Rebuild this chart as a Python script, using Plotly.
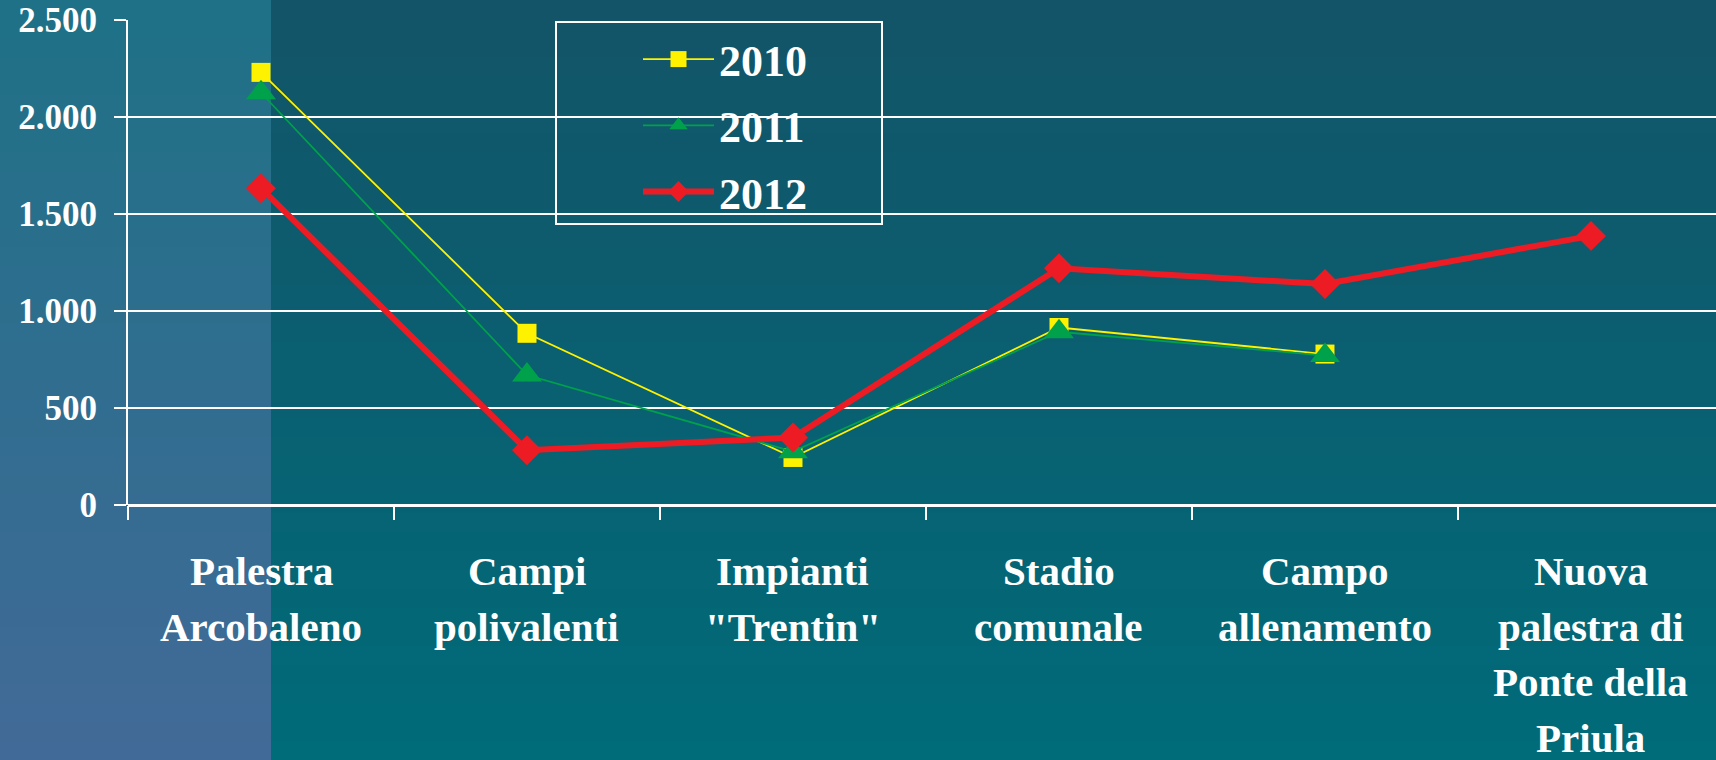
import plotly.graph_objects as go

categories = ["Palestra Arcobaleno", "Campi polivalenti", "Impianti \"Trentin\"",
              "Stadio comunale", "Campo allenamento",
              "Nuova palestra di Ponte della Priula"]
label_lines = [["Palestra", "Arcobaleno"], ["Campi", "polivalenti"], ["Impianti", "\"Trentin\""],
               ["Stadio", "comunale"], ["Campo", "allenamento"],
               ["Nuova", "palestra di", "Ponte della", "Priula"]]
v2010 = [2230, 885, 245, 915, 778, None]
v2011 = [2125, 670, 275, 893, 770, None]
v2012 = [1633, 282, 348, 1220, 1139, 1387]
ytickvals = [0, 500, 1000, 1500, 2000, 2500]
yticktext = ["0", "500", "1.000", "1.500", "2.000", "2.500"]

W, H = 1716, 760
ML, MT, MB, MR = 128, 20, 255, 0
PW, PH = W - ML - MR, H - MT - MB


def px(x):
    return (x - ML) / PW


def py(y):
    return (H - MB - y) / PH


def mix(c1, c2, t):
    return "rgb(%d,%d,%d)" % tuple(round(a + (b - a) * t) for a, b in zip(c1, c2))


shapes = []
n = 40
for i in range(n):
    t = (i + 0.5) / n
    y0, y1 = H * i / n, H * (i + 1) / n + 1
    shapes.append(dict(type="rect", xref="paper", yref="paper", layer="below",
                       x0=px(0), x1=px(271), y0=py(y1), y1=py(y0), line_width=0,
                       fillcolor=mix((30, 113, 134), (66, 106, 152), t)))
    shapes.append(dict(type="rect", xref="paper", yref="paper", layer="below",
                       x0=px(271), x1=px(W), y0=py(y1), y1=py(y0), line_width=0,
                       fillcolor=mix((19, 84, 104), (0, 107, 121), t)))
# legend frame
shapes.append(dict(type="rect", xref="paper", yref="paper", layer="above",
                   x0=px(556), x1=px(882), y0=py(224), y1=py(22),
                   line=dict(color="white", width=2), fillcolor="rgba(0,0,0,0)"))

font = dict(family="'Liberation Serif', 'Times New Roman', serif", color="white", weight="bold")

# category labels, one annotation per line (wider line spacing than tick labels)
annotations = []
for cat, lines in zip(categories, label_lines):
    for i, txt in enumerate(lines):
        annotations.append(dict(x=cat, xref="x", y=0, yref="paper", text=txt,
                                showarrow=False, yanchor="middle",
                                yshift=-(66 + 55.5 * i), font=dict(size=41, **font)))

fig = go.Figure()
fig.add_trace(go.Scatter(x=categories, y=v2010, name="2010", mode="lines+markers",
                         line=dict(color="#FFF200", width=1.8), legendgroup="a",
                         marker=dict(symbol="square", size=19, color="#FFF200")))
fig.add_trace(go.Scatter(x=categories, y=v2011, name="2011", mode="lines+markers",
                         line=dict(color="#00A14B", width=1.8), legendgroup="b",
                         marker=dict(symbol="triangle-up", size=26, color="#00A14B")))
fig.add_trace(go.Scatter(x=categories, y=v2012, name="2012", mode="lines+markers",
                         line=dict(color="#ED1C24", width=6), legendgroup="c",
                         marker=dict(symbol="diamond", size=23, color="#ED1C24")))

fig.update_layout(
    width=W, height=H, margin=dict(l=ML, r=MR, t=MT, b=MB),
    paper_bgcolor="rgb(10,95,112)", plot_bgcolor="rgba(0,0,0,0)",
    shapes=shapes, annotations=annotations, hovermode=False,
    legend=dict(x=px(638), y=py(24), xanchor="left", yanchor="top",
                bgcolor="rgba(0,0,0,0)", borderwidth=0, tracegroupgap=6,
                itemwidth=71, font=dict(size=44, **font)),
    xaxis=dict(type="category", range=[-0.5, 5.47], tickson="boundaries",
               ticks="outside", ticklen=14, tickwidth=2, tickcolor="white",
               showgrid=False, showline=False, showticklabels=False),
    yaxis=dict(range=[0, 2500], tickvals=ytickvals, ticktext=yticktext,
               ticks="outside", ticklen=12, tickwidth=2, tickcolor="white",
               showgrid=True, gridcolor="white", gridwidth=2,
               zeroline=True, zerolinecolor="white", zerolinewidth=3,
               showline=True, linecolor="white", linewidth=2,
               ticklabelstandoff=10, tickfont=dict(size=35, **font)),
)

fig.write_html("out.html", config={"displayModeBar": False},
               post_script="document.body.style.margin='0';")
